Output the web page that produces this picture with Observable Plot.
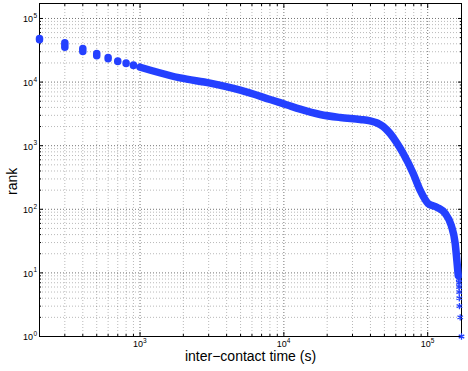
<!DOCTYPE html>
<html><head><meta charset="utf-8">
<script src="https://cdn.jsdelivr.net/npm/d3@7"></script>
<script src="https://cdn.jsdelivr.net/npm/@observablehq/plot@0.6"></script>
<style>body{margin:0;background:#fff} svg{display:block}</style>
</head><body><div id="chart"></div>
<script>
// Discrete early inter-contact times (s): each stacks many samples (rank range)
const blobTimes = [200, 300, 400, 500, 600, 700, 800, 900];
const blobRankHigh = [47600, 40700, 33100, 27700, 23900, 21000, 19600, 18200];
const blobRankLow  = [45300, 34750, 29700, 25500, 22800, 20700, 19300, 17950];
// Dense part of the curve
const curveTimes = [1000, 1200, 1900, 3070, 4970, 8020, 10540, 12980, 17880, 24610, 33900, 39800, 44560, 49000, 54800, 61400, 67600, 79300, 88700, 100700, 116400, 132300, 145700, 155300, 159500, 163000];
const curveRanks = [17150, 15210, 11610, 9610, 7460, 5330, 4365, 3750, 3095, 2775, 2583, 2464, 2275, 2004, 1555, 1083, 754, 366, 198, 123, 107, 86, 56, 29, 15.7, 9.1];
// Last individual samples
const tailTimes = [164500, 165000, 165300, 165600, 165900, 166200, 168300, 171800];
const tailRanks = [8, 7, 6, 5, 4, 3, 2, 1];

const xTickValues = [1e3, 1e4, 1e5];
const xTickExponents = ["3", "4", "5"];
const yTickValues = [1, 10, 100, 1e3, 1e4, 1e5];
const yTickExponents = ["0", "1", "2", "3", "4", "5"];
const xDomain = [200, 171800];
const yDomain = [1, 172000];
const xLabel = "inter\u2212contact time (s)";
const yLabel = "rank";

function minorTicks([lo, hi]) {
  const out = [];
  for (let e = Math.floor(Math.log10(lo)); e <= Math.ceil(Math.log10(hi)); e++)
    for (let m = 2; m <= 9; m++) { const v = m * 10 ** e; if (v >= lo && v <= hi) out.push(v); }
  return out;
}
const xMinor = minorTicks(xDomain);
const yMinor = minorTicks(yDomain);

const blue = "#2440ff";
const gridMinor = {stroke: "#000", strokeOpacity: 0.28, strokeDasharray: "1,2"};
const gridMajor = {stroke: "#000", strokeOpacity: 0.55, strokeDasharray: "1,2"};
const curve = curveTimes.map((t, i) => ({t, r: curveRanks[i]}));

const chart = Plot.plot({
  width: 468, height: 371,
  marginLeft: 39, marginRight: 7, marginTop: 3, marginBottom: 35,
  style: {fontFamily: "'Liberation Sans', Arial, Helvetica, sans-serif", background: "#fff"},
  x: {type: "log", domain: xDomain},
  y: {type: "log", domain: yDomain},
  marks: [
    Plot.gridX(xMinor, gridMinor),
    Plot.gridY(yMinor, gridMinor),
    Plot.gridX(xTickValues, gridMajor),
    Plot.gridY(yTickValues, gridMajor),
    Plot.frame({stroke: "#000"}),
    // inward ticks on all four sides
    Plot.axisX(xTickValues, {anchor: "bottom", tickSize: 4, dy: -4, fill: "none", label: null}),
    Plot.axisX(xTickValues, {anchor: "top", tickSize: 4, dy: 4, fill: "none", label: null}),
    Plot.axisX(xMinor, {anchor: "bottom", tickSize: 2, dy: -2, fill: "none", label: null}),
    Plot.axisX(xMinor, {anchor: "top", tickSize: 2, dy: 2, fill: "none", label: null}),
    Plot.axisY(yTickValues, {anchor: "left", tickSize: 4, dx: 4, fill: "none", label: null}),
    Plot.axisY(yTickValues, {anchor: "right", tickSize: 4, dx: -4, fill: "none", label: null}),
    Plot.axisY(yMinor, {anchor: "left", tickSize: 2, dx: 2, fill: "none", label: null}),
    Plot.axisY(yMinor, {anchor: "right", tickSize: 2, dx: -2, fill: "none", label: null}),
    // tick labels 10^k
    Plot.text(xTickValues, {x: d => d, frameAnchor: "bottom", text: () => "10", dy: 10, dx: -2, fontSize: 9}),
    Plot.text(xTickValues, {x: d => d, frameAnchor: "bottom", text: (d, i) => xTickExponents[i], dy: 6, dx: 3, textAnchor: "start", fontSize: 6.5}),
    Plot.text(yTickValues, {y: d => d, frameAnchor: "left", text: () => "10", dx: -6.5, dy: 1, textAnchor: "end", fontSize: 9}),
    Plot.text(yTickValues, {y: d => d, frameAnchor: "left", text: (d, i) => yTickExponents[i], dx: -6, dy: -2.5, textAnchor: "start", fontSize: 6.5}),
    // axis titles
    Plot.text([xLabel], {frameAnchor: "bottom", dy: 24.5, fontSize: 14}),
    Plot.text([yLabel], {frameAnchor: "left", dx: -27, dy: 25, rotate: -90, fontSize: 14}),
    // data
    Plot.ruleX(blobTimes, {x: d => d, y1: (d, i) => blobRankLow[i], y2: (d, i) => blobRankHigh[i], stroke: blue, strokeWidth: 7.5, strokeLinecap: "round"}),
    Plot.line(curve, {x: "t", y: "r", stroke: blue, strokeWidth: 7.5, curve: "monotone-x", strokeLinecap: "round", strokeLinejoin: "round"}),
    Plot.dot(tailTimes, {x: d => d, y: (d, i) => tailRanks[i], symbol: "asterisk", r: 3, stroke: blue, strokeWidth: 1.3})
  ]
});
document.getElementById("chart").appendChild(chart);
</script>
</body></html>
